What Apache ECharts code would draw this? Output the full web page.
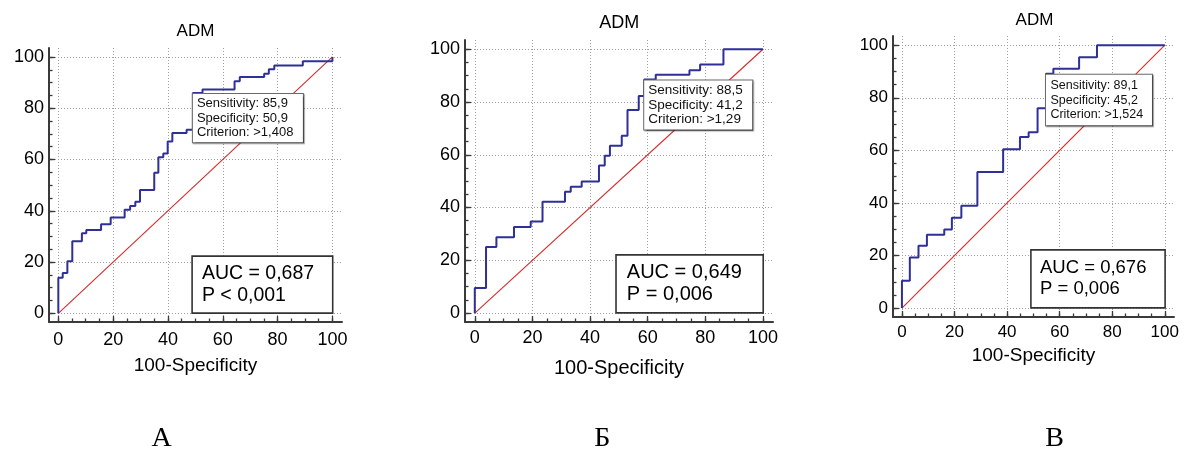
<!DOCTYPE html>
<html>
<head>
<meta charset="utf-8">
<title>ADM ROC</title>
<script src="https://cdn.jsdelivr.net/npm/echarts@6/dist/echarts.min.js"></script>
<style>
  html, body { margin: 0; padding: 0; background: #fff; }
  #chart { width: 1184px; height: 453px; }
</style>
</head>
<body>
<div id="chart"></div>
<script>
// ROC curves of ADM for three groups: 100-Specificity (x) vs Sensitivity (y)
const majorTicks = [0, 20, 40, 60, 80, 100];
const minorTicks = [0, 5, 10, 15, 20, 25, 30, 35, 40, 45, 50, 55, 60, 65, 70, 75, 80, 85, 90, 95, 100];

// Panel А
const fprA = [0, 0, 1.6, 3.3, 5.1, 8.6, 10.2, 15.6, 19.1, 24.2, 26.2, 28.1, 29.8, 35.0, 36.5, 38.3, 39.9, 41.6, 46.8, 49.1, 52.6, 64.3, 66.2, 75.1, 76.8, 78.8, 89.2, 100];
const tprA = [0, 13.9, 15.7, 20.3, 28.1, 31.2, 32.5, 34.7, 37.4, 40.4, 41.9, 43.5, 48.1, 54.8, 60.9, 62.3, 67.0, 70.3, 71.6, 85.9, 87.3, 90.5, 92.2, 93.5, 95.2, 96.7, 98.3, 100];

// Panel Б
const fprB = [0, 0, 3.9, 7.5, 13.6, 19.4, 23.5, 31.3, 33.3, 37.1, 43.1, 45.1, 46.9, 51.0, 53.0, 56.9, 58.8, 62.8, 74.5, 78.2, 86.3, 100];
const tprB = [0, 9.5, 25.0, 28.7, 32.6, 34.7, 42.2, 46.0, 47.9, 49.9, 55.9, 59.6, 63.4, 67.2, 77.0, 82.3, 88.5, 90.3, 92.0, 94.2, 100, 100];

// Panel В
const fprC = [0, 0, 3.0, 6.3, 9.5, 16.1, 19.0, 22.6, 28.7, 38.5, 44.9, 48.2, 51.6, 54.8, 57.6, 67.4, 74.2, 100];
const tprC = [0, 10.4, 19.2, 23.7, 27.9, 29.9, 34.4, 38.9, 51.8, 60.4, 65.1, 66.9, 76.0, 89.1, 91.0, 95.4, 100, 100];

// Optimal cut-off points and test summary
const cutSens = [85.9, 88.5, 89.1];
const cutSpec = [50.9, 41.2, 45.2];
const cutCrit = ['>1,408', '>1,29', '>1,524'];
const aucValues = ['0,687', '0,649', '0,676'];
const pValues = ['< 0,001', '= 0,006', '= 0,006'];
const panelTitles = ['ADM', 'ADM', 'ADM'];
const panelLetters = ['А', 'Б', 'В'];
const xName = '100-Specificity';

const curves = [[fprA, tprA], [fprB, tprB], [fprC, tprC]];

// Layout of each panel
const layout = [
  { grid: { left: 49, top: 48, width: 293, height: 274 }, title: [195.5, 31.7, 17], tick: 18, xMargin: 9,
    nameSize: 19, nameGap: 34,
    auc: { font: 19.5, lh: 22.7, pad: [5, 4, 5, 9], w: 126 },
    cut: { font: 13, lh: 14.35, pad: [2.5, 4, 2.5, 4], w: 102 }, letter: [161.7, 438.7] },
  { grid: { left: 465, top: 40, width: 308, height: 282 }, title: [619.3, 22.7, 18], tick: 18, xMargin: 7,
    nameSize: 20, nameGap: 36,
    auc: { font: 20, lh: 21.7, pad: [6.5, 4, 6.5, 10], w: 131.6 },
    cut: { font: 13.5, lh: 14.5, pad: [2.75, 4, 2.75, 4], w: 100 }, letter: [602.2, 438.7] },
  { grid: { left: 893, top: 36, width: 281, height: 281 }, title: [1034.5, 20.7, 17], tick: 17, xMargin: 7,
    nameSize: 19, nameGap: 26,
    auc: { font: 18.5, lh: 21, pad: [7.2, 4, 7.2, 8.3], w: 120.3 },
    cut: { font: 12.5, lh: 14.2, pad: [3.9, 4, 3.9, 4.4], w: 97.6 }, letter: [1054.5, 438.7] }
];

const SANS = '"Liberation Sans", Arial, Helvetica, sans-serif';
const SERIF = '"Liberation Serif", "Times New Roman", serif';
const AXIS_COLOR = '#3a3a3a';
const DIAG_COLOR = '#d42a2a';
const ROC_COLOR = '#2f2f98';
const AX_MIN = -3.4, AX_MAX = 103.5;

function comma(v) { return v.toFixed(1).replace('.', ','); }

const grids = [], xAxes = [], yAxes = [], series = [], graphics = [];

layout.forEach((L, i) => {
  grids.push(Object.assign({ containLabel: false }, L.grid));

  const majorX = {
    type: 'value', gridIndex: i, position: 'bottom', min: AX_MIN, max: AX_MAX,
    axisLine: { show: true, onZero: false, lineStyle: { color: AXIS_COLOR, width: 2 } },
    axisTick: { show: true, inside: true, length: 6, customValues: majorTicks, lineStyle: { color: AXIS_COLOR, width: 1.3 } },
    axisLabel: { show: true, customValues: majorTicks, margin: L.xMargin, fontSize: L.tick, color: '#000', fontFamily: SANS },
    splitLine: { show: true, lineStyle: { color: '#a0a0a0', width: 1, type: [1, 2] } },
    name: xName, nameLocation: 'middle', nameGap: L.nameGap,
    nameTextStyle: { fontSize: L.nameSize, color: '#000', fontFamily: SANS }
  };
  const minorX = {
    type: 'value', gridIndex: i, position: 'bottom', min: AX_MIN, max: AX_MAX,
    axisLine: { show: false, onZero: false },
    axisTick: { show: true, inside: true, length: 3.5, customValues: minorTicks, lineStyle: { color: AXIS_COLOR, width: 1.3 } },
    axisLabel: { show: false }, splitLine: { show: false }
  };
  const majorY = {
    type: 'value', gridIndex: i, position: 'left', min: AX_MIN, max: AX_MAX,
    axisLine: { show: true, onZero: false, lineStyle: { color: AXIS_COLOR, width: 2 } },
    axisTick: { show: true, inside: true, length: 6, customValues: majorTicks, lineStyle: { color: AXIS_COLOR, width: 1.3 } },
    axisLabel: { show: true, customValues: majorTicks, margin: 5, fontSize: L.tick, color: '#000', fontFamily: SANS },
    splitLine: { show: true, lineStyle: { color: '#a0a0a0', width: 1, type: [1, 2] } }
  };
  const minorY = {
    type: 'value', gridIndex: i, position: 'left', min: AX_MIN, max: AX_MAX,
    axisLine: { show: false, onZero: false },
    axisTick: { show: true, inside: true, length: 3.5, customValues: minorTicks, lineStyle: { color: AXIS_COLOR, width: 1.3 } },
    axisLabel: { show: false }, splitLine: { show: false }
  };
  const xi = xAxes.length, yi = yAxes.length;
  xAxes.push(majorX, minorX);
  yAxes.push(majorY, minorY);

  // Reference diagonal (chance line)
  series.push({
    type: 'line', xAxisIndex: xi, yAxisIndex: yi, silent: true, symbol: 'none', z: 2,
    data: [[0, 0], [100, 100]],
    color: DIAG_COLOR,
    itemStyle: { color: DIAG_COLOR },
    lineStyle: { color: DIAG_COLOR, width: 1.1, opacity: 1 }
  });

  // AUC box: its lower-right corner sits on the plot corner (100, 0)
  const aucW = L.auc.w + L.auc.pad[1] + L.auc.pad[3];
  const aucH = 2 * L.auc.lh + L.auc.pad[0] + L.auc.pad[2];

  const [fpr, tpr] = curves[i];
  const rocData = fpr.map((x, k) => [x, tpr[k]]);
  series.push({
    type: 'line', xAxisIndex: xi, yAxisIndex: yi, silent: true, symbol: 'none', z: 3,
    step: 'end',
    data: rocData,
    color: ROC_COLOR,
    itemStyle: { color: ROC_COLOR },
    lineStyle: { color: ROC_COLOR, width: 2 },
    markPoint: {
      silent: true,
      data: [
        {
          coord: [100 - cutSpec[i], cutSens[i]],
          symbol: 'circle', symbolSize: 1, itemStyle: { color: 'rgba(0,0,0,0)' },
          label: {
            show: true, position: 'inside', align: 'left', verticalAlign: 'top', offset: [0, 1],
            formatter: 'Sensitivity: ' + comma(cutSens[i]) + '\nSpecificity: ' + comma(cutSpec[i]) + '\nCriterion: ' + cutCrit[i],
            fontFamily: SANS, fontSize: L.cut.font, lineHeight: L.cut.lh, color: '#111',
            width: L.cut.w, padding: L.cut.pad,
            backgroundColor: '#fff', borderColor: '#6a6a6a', borderWidth: 1,
            shadowColor: 'rgba(0,0,0,0.35)', shadowOffsetX: 1, shadowOffsetY: 1, shadowBlur: 1
          }
        },
        {
          coord: [100, 0],
          symbol: 'circle', symbolSize: 1, itemStyle: { color: 'rgba(0,0,0,0)' },
          label: {
            show: true, position: 'inside', align: 'left', verticalAlign: 'top',
            offset: [-aucW - 0.5, -aucH - 1],
            formatter: 'AUC = ' + aucValues[i] + '\nP ' + pValues[i],
            fontFamily: SANS, fontSize: L.auc.font, lineHeight: L.auc.lh, color: '#000',
            width: L.auc.w, padding: L.auc.pad,
            backgroundColor: '#fff', borderColor: '#333', borderWidth: 1.6
          }
        }
      ]
    }
  });

  graphics.push({
    type: 'text', x: L.title[0], y: L.title[1], silent: true,
    style: { text: panelTitles[i], fontFamily: SANS, fontSize: L.title[2], fill: '#000',
             align: 'center', verticalAlign: 'middle', textAlign: 'center', textVerticalAlign: 'middle' }
  });
  graphics.push({
    type: 'text', x: L.letter[0], y: L.letter[1], silent: true,
    style: { text: panelLetters[i], fontFamily: SERIF, fontSize: 28, fill: '#000',
             align: 'center', verticalAlign: 'middle', textAlign: 'center', textVerticalAlign: 'middle' }
  });
});

const chart = echarts.init(document.getElementById('chart'), null, { renderer: 'canvas' });
chart.setOption({
  backgroundColor: '#ffffff',
  animation: false,
  grid: grids,
  xAxis: xAxes,
  yAxis: yAxes,
  series: series,
  graphic: graphics
});
</script>
</body>
</html>
